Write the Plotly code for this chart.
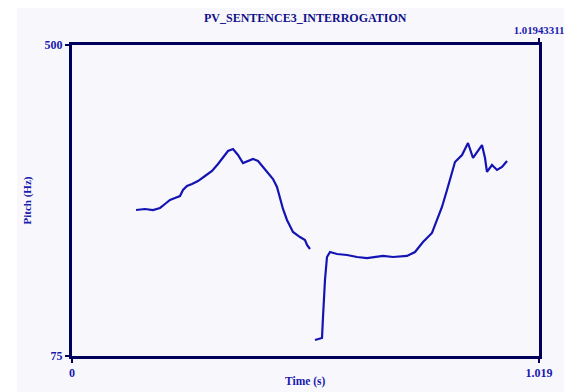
import plotly.graph_objects as go

# Pitch contour, voiced segment 1
t1 = [0.1397, 0.1593, 0.1767, 0.1920, 0.2029, 0.2138, 0.2247, 0.2356, 0.2422, 0.2509,
      0.2618, 0.2749, 0.2902, 0.3055, 0.3186, 0.3295, 0.3404, 0.3513, 0.3622, 0.3731,
      0.3840, 0.3950, 0.4059, 0.4168, 0.4277, 0.4386, 0.4473, 0.4539, 0.4604, 0.4691,
      0.4822, 0.4975, 0.5084, 0.5128, 0.5193]
f1 = [274.5, 275.9, 274.5, 277.3, 282.7, 288.2, 290.9, 293.6, 301.9, 307.3,
      310.1, 314.1, 321.0, 327.8, 337.4, 347.0, 355.2, 357.9, 349.7, 338.7,
      341.5, 344.2, 341.5, 333.3, 325.1, 316.9, 306.0, 290.9, 275.9, 260.9,
      244.5, 237.6, 233.5, 226.7, 221.2]

# Pitch contour, voiced segment 2
t2 = [0.5302, 0.5455, 0.5477, 0.5520, 0.5564, 0.5630, 0.5782, 0.6001, 0.6219, 0.6437,
      0.6786, 0.7004, 0.7310, 0.7484, 0.7659, 0.7855, 0.7964, 0.8073, 0.8183, 0.8292,
      0.8357, 0.8510, 0.8641, 0.8750, 0.8946, 0.9012, 0.9055, 0.9164, 0.9274, 0.9383,
      0.9492]
f2 = [96.9, 99.6, 128.3, 178.9, 210.3, 217.1, 214.4, 213.0, 210.3, 208.9,
      211.7, 210.3, 211.7, 217.1, 230.8, 243.1, 260.9, 278.6, 301.9, 325.1,
      340.1, 349.7, 366.1, 345.6, 363.3, 345.6, 326.5, 336.0, 329.2, 333.3,
      341.5]

x_range = [0, 1.019]
y_range = [75, 500]
x_ticks = [0, 1.019]
x_ticktext = ["0", "1.019"]
y_ticks = [75, 500]
y_ticktext = ["75", "500"]
top_tick = [1.019]
top_ticktext = ["1.01943311"]
title_text = "PV_SENTENCE3_INTERROGATION"
x_title = "Time (s)"
y_title = "Pitch (Hz)"

# the page body adds an 8px offset, so the figure is laid out 8px up/left
W, H = 564, 384
L, R, T, B = 64, 531, 37, 348

line_col = "#1414b4"
frame_col = "#00005c"
text_col = "#1a1ab0"
fam = "Liberation Serif"

fig = go.Figure()
fig.add_trace(go.Scatter(x=t1, y=f1, mode="lines", line=dict(color=line_col, width=2.2),
                         showlegend=False, hoverinfo="skip"))
fig.add_trace(go.Scatter(x=t2, y=f2, mode="lines", line=dict(color=line_col, width=2.2),
                         showlegend=False, hoverinfo="skip"))
# invisible trace to bring the top axis to life
fig.add_trace(go.Scatter(x=[0], y=[75], xaxis="x2", mode="markers",
                         marker=dict(opacity=0), showlegend=False, hoverinfo="skip"))

def px_x(p):
    return (p - L) / (R - L)

def px_y(p):
    return (B - p) / (B - T)

tickfont = dict(family=fam, size=12, color=text_col, weight="bold")

fig.update_layout(
    width=W, height=H,
    margin=dict(l=L, r=W - R, t=T, b=H - B, pad=0, autoexpand=False),
    paper_bgcolor="#f8f8fc",
    plot_bgcolor="#f8f8fc",
    xaxis=dict(range=x_range, tickvals=x_ticks, ticktext=x_ticktext,
               showgrid=False, zeroline=False, showline=True, mirror=True,
               linecolor=frame_col, linewidth=3, ticks="outside", ticklen=4,
               tickwidth=2, tickcolor=frame_col, tickfont=tickfont, fixedrange=True,
               automargin=False),
    xaxis2=dict(range=x_range, overlaying="x", side="top", tickvals=top_tick,
                ticktext=top_ticktext, showgrid=False, zeroline=False, showline=False,
                ticks="outside", ticklen=6, tickwidth=2, tickcolor=frame_col,
                tickfont=dict(family=fam, size=10.8, color=text_col, weight="bold"),
                fixedrange=True, automargin=False),
    yaxis=dict(range=y_range, tickvals=y_ticks, ticktext=y_ticktext,
               showgrid=False, zeroline=False, showline=True, mirror=True,
               linecolor=frame_col, linewidth=3, ticks="outside", ticklen=4,
               tickwidth=2, tickcolor=frame_col, tickfont=tickfont, fixedrange=True,
               automargin=False),
    shapes=[
        dict(type="rect", xref="paper", yref="paper", x0=px_x(0), x1=px_x(9),
             y0=px_y(0), y1=px_y(H), fillcolor="white", line=dict(width=0), layer="below"),
    ],
    annotations=[
        dict(text=title_text, xref="paper", yref="paper", x=0.5, y=px_y(10),
             xanchor="center", yanchor="middle", showarrow=False,
             font=dict(family=fam, size=12, color="#10108a", weight="bold")),
        dict(text=x_title, xref="paper", yref="paper", x=0.5, y=px_y(373),
             xanchor="center", yanchor="middle", showarrow=False,
             font=dict(family=fam, size=11.5, color=text_col, weight="bold")),
        dict(text=y_title, xref="paper", yref="paper", x=px_x(19), y=0.5,
             xanchor="center", yanchor="middle", textangle=-90, showarrow=False,
             font=dict(family=fam, size=11, color=text_col, weight="bold")),
    ],
)

fig.write_html("out.html")
